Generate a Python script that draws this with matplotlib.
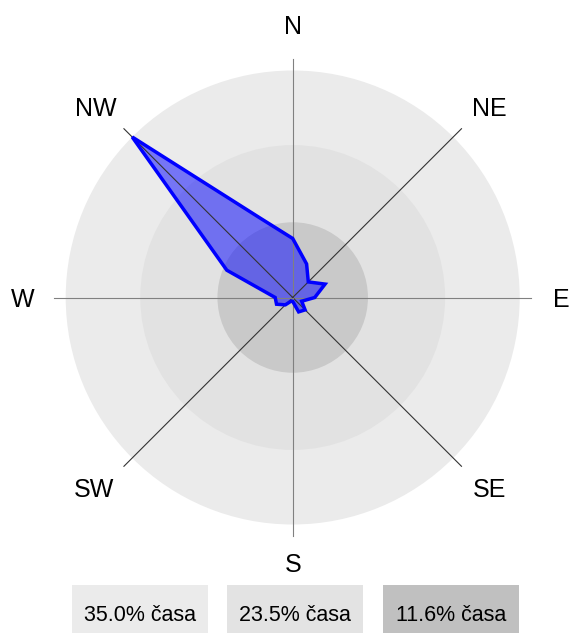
import numpy as np
import matplotlib.pyplot as plt
from matplotlib.patches import Circle, Rectangle

# wind direction frequencies (% of time), 16 sectors clockwise from N
directions = ['N', 'NNE', 'NE', 'ENE', 'E', 'ESE', 'SE', 'SSE',
              'S', 'SSW', 'SW', 'WSW', 'W', 'WNW', 'NW', 'NNW']
freq = [9.1, 5.6, 3.4, 5.4, 3.4, 1.5, 2.7, 2.4,
        0.6, 0.6, 1.6, 2.7, 2.7, 11.0, 35.0, 13.3]

# reference rings and their legend labels
rings = [35.0, 23.5, 11.6]
ring_colors = ['#ebebeb', '#e2e2e2', '#c9c9c9']
legend_colors = ['#ebebeb', '#e3e3e3', '#c0c0c0']
legend_labels = ['%.1f%% časa' % r for r in rings]

compass = ['N', 'NE', 'E', 'SE', 'S', 'SW', 'W', 'NW']

W, H = 572, 633
fig = plt.figure(figsize=(W / 100, H / 100), dpi=100)
ax = fig.add_axes([0, 0, 1, 1])

# pixels per percent, center position in pixels
scale = 227 / 35.0
cx, cy = 292.7, 297.5
ax.set_xlim(-cx / scale, (W - cx) / scale)
ax.set_ylim(-(H - cy) / scale, cy / scale)
ax.axis('off')

for r, c in zip(rings, ring_colors):
    ax.add_patch(Circle((0, 0), r, facecolor=c, edgecolor='none', zorder=1))

theta = np.deg2rad(np.arange(len(directions)) * 22.5)
f = np.array(freq)
xs = f * np.sin(theta)
ys = f * np.cos(theta)
ax.fill(xs, ys, facecolor='#0000ff', alpha=0.5, edgecolor='none', zorder=2)

# compass axes
line_r = 36.8
for i in range(len(compass)):
    a = np.deg2rad(i * 45)
    col = '#808080' if i % 2 == 0 else '#333333'
    ax.plot([0, line_r * np.sin(a)], [0, line_r * np.cos(a)],
            color=col, lw=0.8, zorder=3)

# label offsets from the center, in pixels
lab_dx = [0, 197, 269, 197, 0, -199, -270, -197]
lab_dy = [272, 190, 0, -190, -266, -190, 0, 190]
for name, dx, dy in zip(compass, lab_dx, lab_dy):
    ax.text(dx / scale, (dy - 9) / scale, name, ha='center', va='baseline',
            fontsize=18, family='Liberation Sans', color='black', zorder=5)

ax.fill(xs, ys, facecolor='none', edgecolor='#0000ff', lw=2.5,
        joinstyle='miter', zorder=4)

# legend boxes along the bottom
box_x = [72, 227, 383]
box_w = 136
for x0, c, lab in zip(box_x, legend_colors, legend_labels):
    fig.patches.append(Rectangle((x0 / W, 0), box_w / W, 48 / H,
                                 transform=fig.transFigure,
                                 facecolor=c, edgecolor='none'))
    fig.text((x0 + box_w / 2) / W, 12 / H, lab, ha='center', va='baseline',
             fontsize=15.5, family='Liberation Sans', color='black')

fig.savefig('out.png', dpi=100)
